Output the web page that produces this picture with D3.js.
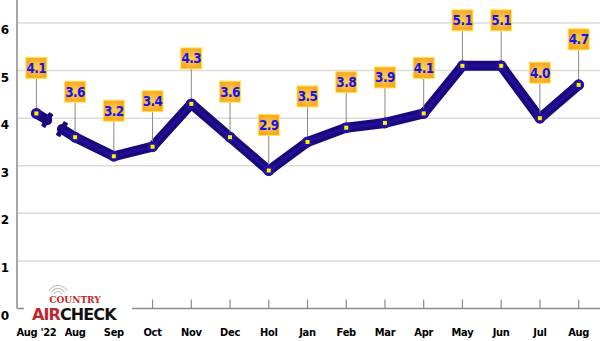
<!DOCTYPE html>
<html>
<head>
<meta charset="utf-8">
<script src="https://cdn.jsdelivr.net/npm/d3@7"></script>
<style>
  body { margin: 0; background: #fff; }
  svg { display: block; }
</style>
</head>
<body>
<div id="chart"></div>
<script>
const months = ["Aug '22", "Aug", "Sep", "Oct", "Nov", "Dec", "Hol", "Jan", "Feb", "Mar", "Apr", "May", "Jun", "Jul", "Aug"];
const values = [4.1, 3.6, 3.2, 3.4, 4.3, 3.6, 2.9, 3.5, 3.8, 3.9, 4.1, 5.1, 5.1, 4.0, 4.7];
const yTicks = [0, 1, 2, 3, 4, 5, 6];

const W = 600, H = 341;
const left = 17, right = 598, yBottom = 308.5, yTop = 23;

const svg = d3.select("#chart").append("svg")
    .attr("width", W)
    .attr("height", H);

const defs = svg.append("defs");
const grad = defs.append("radialGradient").attr("id", "boxGrad");
grad.append("stop").attr("offset", "0%").attr("stop-color", "#ffd24f");
grad.append("stop").attr("offset", "100%").attr("stop-color", "#f7a825");

const x = d3.scalePoint()
    .domain(d3.range(months.length))
    .range([left, right])
    .padding(0.5);

const y = d3.scaleLinear()
    .domain([0, 6])
    .range([yBottom, yTop]);

// grid
svg.append("g")
  .selectAll("line")
  .data(yTicks.filter(d => d > 0))
  .join("line")
    .attr("x1", left)
    .attr("x2", W)
    .attr("y1", d => y(d))
    .attr("y2", d => y(d))
    .attr("stroke", "#dcdcdc")
    .attr("stroke-width", 1.5);

// y axis
svg.append("line")
    .attr("x1", left).attr("x2", left)
    .attr("y1", 0).attr("y2", yBottom)
    .attr("stroke", "#8a8a8a")
    .attr("stroke-width", 1.5);

svg.append("g")
  .selectAll("text")
  .data(yTicks)
  .join("text")
    .attr("x", 5)
    .attr("y", d => y(d) + 11)
    .attr("text-anchor", "middle")
    .style("font-family", "'DejaVu Sans', sans-serif")
    .style("font-weight", "bold")
    .style("font-size", "12px")
    .text(d => d);

// x axis
svg.append("line")
    .attr("x1", left).attr("x2", W)
    .attr("y1", yBottom).attr("y2", yBottom)
    .attr("stroke", "#8a8a8a")
    .attr("stroke-width", 1.5);

svg.append("g")
  .selectAll("line")
  .data(d3.range(months.length))
  .join("line")
    .attr("x1", d => x(d)).attr("x2", d => x(d))
    .attr("y1", yBottom).attr("y2", yBottom - 9)
    .attr("stroke", "#8a8a8a")
    .attr("stroke-width", 1.2);

svg.append("g")
  .selectAll("text")
  .data(months)
  .join("text")
    .attr("x", (d, i) => x(i))
    .attr("y", 336)
    .attr("text-anchor", "middle")
    .style("font-family", "'DejaVu Sans Condensed', 'DejaVu Sans', sans-serif")
    .style("font-weight", "bold")
    .style("font-size", "11px")
    .style("letter-spacing", "-0.3px")
    .text(d => d);

// line with broken first segment
const pts = values.map((v, i) => [x(i), y(v)]);
const lineColor = "#19097c";
const line = d3.line();

const p0 = pts[0], p1 = pts[1];
const lerp = t => [p0[0] + (p1[0] - p0[0]) * t, p0[1] + (p1[1] - p0[1]) * t];
const cutA = lerp(0.28), cutB = lerp(0.66);

svg.append("path")
    .attr("d", line([p0, cutA]))
    .attr("fill", "none")
    .attr("stroke", lineColor)
    .attr("stroke-width", 10)
    .attr("stroke-linecap", "round");

svg.append("path")
    .attr("d", line([cutB].concat(pts.slice(1))))
    .attr("fill", "none")
    .attr("stroke", lineColor)
    .attr("stroke-width", 10)
    .attr("stroke-linejoin", "round")
    .attr("stroke-linecap", "round");

// highlight stroke for a bit of depth
svg.append("path")
    .attr("d", line([cutB].concat(pts.slice(1))))
    .attr("fill", "none")
    .attr("stroke", "#2a16b4")
    .attr("stroke-width", 3)
    .attr("stroke-linejoin", "round")
    .attr("stroke-linecap", "round")
    .attr("opacity", 0.5);

// break bars
const ang = Math.atan2(p1[1] - p0[1], p1[0] - p0[0]) * 180 / Math.PI;
[cutA, cutB].forEach(c => {
  svg.append("rect")
      .attr("x", -2.5).attr("y", -8)
      .attr("width", 5).attr("height", 16)
      .attr("rx", 1)
      .attr("fill", lineColor)
      .attr("transform", `translate(${c[0]},${c[1]}) rotate(${ang})`);
});

// leader lines + labels
const boxGap = 35, boxW = 21, boxH = 21;
const labels = svg.append("g")
  .selectAll("g")
  .data(values)
  .join("g")
    .attr("transform", (d, i) => `translate(${x(i)},${y(d)})`);

labels.append("line")
    .attr("x1", 0).attr("x2", 0)
    .attr("y1", 0).attr("y2", -boxGap)
    .attr("stroke", "#888")
    .attr("stroke-width", 1);

labels.append("rect")
    .attr("x", -boxW / 2)
    .attr("y", -boxGap - boxH)
    .attr("width", boxW)
    .attr("height", boxH)
    .attr("fill", "url(#boxGrad)")
    .attr("stroke", "#ffe64a")
    .attr("stroke-width", 1);

labels.append("text")
    .attr("x", 0)
    .attr("y", -boxGap - boxH / 2 + 5)
    .attr("text-anchor", "middle")
    .style("font-family", "'DejaVu Sans Condensed', 'DejaVu Sans', sans-serif")
    .style("font-weight", "bold")
    .style("font-size", "13.5px")
    .style("letter-spacing", "-0.6px")
    .style("fill", "#1414f0")
    .text(d => d.toFixed(1));

// point markers
const dots = svg.append("g")
  .selectAll("g")
  .data(values)
  .join("g")
    .attr("transform", (d, i) => `translate(${x(i)},${y(d)})`);

dots.append("circle")
    .attr("r", 5.5)
    .attr("fill", "#22109e");

dots.append("rect")
    .attr("x", -2).attr("y", -2)
    .attr("width", 4).attr("height", 4)
    .attr("fill", "#fff200");

// logo
const logo = svg.append("g");
logo.append("rect")
    .attr("x", 24).attr("y", 284)
    .attr("width", 108).attr("height", 37)
    .attr("fill", "#fff");
[4, 7, 10].forEach(r => {
  logo.append("path")
      .attr("d", d3.arc()({innerRadius: r, outerRadius: r + 1, startAngle: -Math.PI / 3, endAngle: Math.PI / 3}))
      .attr("transform", "translate(58,296)")
      .attr("fill", "#bbb");
});
logo.append("text")
    .attr("x", 75).attr("y", 303)
    .attr("text-anchor", "middle")
    .style("font-family", "'DejaVu Serif', serif")
    .style("font-weight", "bold")
    .style("font-size", "9px")
    .style("fill", "#c0272d")
    .text("COUNTRY");
const logoText = logo.append("text")
    .attr("x", 32).attr("y", 320)
    .style("font-family", "'DejaVu Sans', sans-serif")
    .style("font-weight", "bold")
    .style("font-size", "16px")
    .style("letter-spacing", "-0.9px");
logoText.append("tspan").style("fill", "#c0272d").text("AIR");
logoText.append("tspan").style("fill", "#111").text("CHECK");
</script>
</body>
</html>
